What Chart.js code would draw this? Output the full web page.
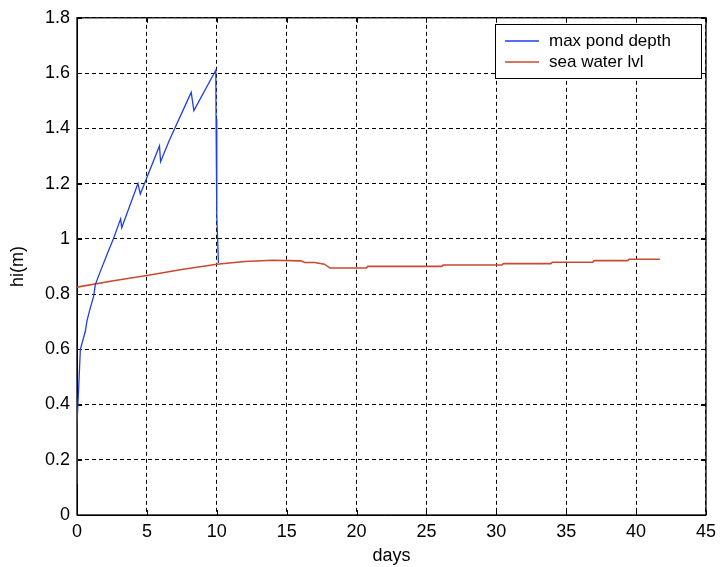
<!DOCTYPE html>
<html>
<head>
<meta charset="utf-8">
<script src="https://cdn.jsdelivr.net/npm/chart.js@4/dist/chart.umd.min.js"></script>
<style>
html,body{margin:0;padding:0;background:#fff;}
#wrap{width:722px;height:567px;position:relative;}
</style>
</head>
<body>
<div id="wrap"><canvas id="c" width="722" height="567"></canvas></div>
<script>
// ---- data ----
const pondDays  = [0, 0.0, 0.12, 0.24, 0.6, 0.71, 0.9, 1.19, 1.31, 1.67, 2.14, 2.62, 3.12, 3.2, 4.36, 4.53, 5.9, 5.98, 6.6, 8.17, 8.36, 9.84, 9.93, 9.95, 10.0, 10.12];
const pondDepth = [0.113, 0.33, 0.46, 0.60, 0.666, 0.702, 0.74, 0.792, 0.834, 0.882, 0.942, 1.002, 1.072, 1.04, 1.20, 1.162, 1.336, 1.279, 1.356, 1.530, 1.464, 1.602, 1.61, 1.434, 1.086, 0.912];

const seaDays  = [0, 2.5, 5, 7.5, 10, 12, 14, 16, 16.3, 17, 17.7, 18.1, 20.7, 20.8, 26.1, 26.2, 30.4, 30.5, 33.9, 34.0, 36.9, 37.0, 39.4, 39.5, 41.7];
const seaLevel = [0.825, 0.847, 0.867, 0.889, 0.908, 0.918, 0.922, 0.920, 0.914, 0.914, 0.908, 0.894, 0.894, 0.900, 0.900, 0.905, 0.905, 0.910, 0.910, 0.915, 0.915, 0.921, 0.921, 0.926, 0.926];

const xTickValues = [0, 5, 10, 15, 20, 25, 30, 35, 40, 45];
const yTickValues = [0, 0.2, 0.4, 0.6, 0.8, 1, 1.2, 1.4, 1.6, 1.8];
const yTickLabels = ['0', '0.2', '0.4', '0.6', '0.8', '1', '1.2', '1.4', '1.6', '1.8'];
const seriesNames = ['max pond depth', 'sea water lvl'];
const seriesColors = ['#1f3fe6', '#c84a30'];

const toPts = (xs, ys) => xs.map((x, i) => ({x: x, y: ys[i]}));

const FONT = 'Liberation Sans, Arial, sans-serif';

const framePlugin = {
  id: 'frame',
  beforeDatasetsDraw(chart) {
    const {ctx, chartArea: a, scales} = chart;
    ctx.save();
    ctx.strokeStyle = '#000';
    ctx.lineWidth = 1.3;
    ctx.setLineDash([]);
    ctx.strokeRect(a.left, a.top, a.right - a.left, a.bottom - a.top);
    ctx.lineWidth = 1;
    const tl = 5;
    xTickValues.forEach(v => {
      const px = Math.round(scales.x.getPixelForValue(v)) + 0.5;
      ctx.beginPath();
      ctx.moveTo(px, a.bottom); ctx.lineTo(px, a.bottom - tl);
      ctx.moveTo(px, a.top); ctx.lineTo(px, a.top + tl);
      ctx.stroke();
    });
    yTickValues.forEach(v => {
      const py = Math.round(scales.y.getPixelForValue(v)) + 0.5;
      ctx.beginPath();
      ctx.moveTo(a.left, py); ctx.lineTo(a.left + tl, py);
      ctx.moveTo(a.right, py); ctx.lineTo(a.right - tl, py);
      ctx.stroke();
    });
    ctx.restore();
  },
  afterDatasetsDraw(chart) {
    const {ctx} = chart;
    ctx.save();
    const bx = 495, by = 24, bw = 206, bh = 54;
    ctx.fillStyle = '#fff';
    ctx.fillRect(bx, by, bw, bh);
    ctx.strokeStyle = '#000';
    ctx.lineWidth = 1;
    ctx.strokeRect(bx + 0.5, by + 0.5, bw, bh);
    ctx.font = '17px ' + FONT;
    ctx.textBaseline = 'middle';
    ctx.textAlign = 'left';
    seriesNames.forEach((name, i) => {
      const yy = by + 17 + i * 21;
      ctx.strokeStyle = seriesColors[i];
      ctx.lineWidth = 1.3;
      ctx.beginPath();
      ctx.moveTo(bx + 10, yy); ctx.lineTo(bx + 44, yy);
      ctx.stroke();
      ctx.fillStyle = '#000';
      ctx.fillText(name, bx + 54, yy);
    });
    ctx.restore();
  }
};

new Chart(document.getElementById('c'), {
  type: 'line',
  data: {
    datasets: [
      {label: seriesNames[0], data: toPts(pondDays, pondDepth), borderColor: seriesColors[0], borderWidth: 1.3, pointRadius: 0, tension: 0, fill: false},
      {label: seriesNames[1], data: toPts(seaDays, seaLevel), borderColor: seriesColors[1], borderWidth: 1.6, pointRadius: 0, tension: 0, fill: false}
    ]
  },
  options: {
    responsive: false,
    animation: false,
    layout: {padding: {left: 0, right: 15, top: 13, bottom: 0}},
    plugins: {legend: {display: false}, tooltip: {enabled: false}},
    scales: {
      x: {
        type: 'linear', min: 0, max: 45,
        afterBuildTicks: s => { s.ticks = xTickValues.map(v => ({value: v})); },
        afterFit: s => { s.height = 52; },
        ticks: {color: '#000', font: {family: FONT, size: 18}, padding: 6, callback: v => String(v)},
        grid: {color: '#000', lineWidth: 1, drawTicks: false},
        border: {display: true, color: '#000', width: 1, dash: [4, 3]},
        title: {display: true, text: 'days', color: '#000', font: {family: FONT, size: 18}, padding: {top: 0, bottom: 0}}
      },
      y: {
        type: 'linear', min: 0, max: 1.8,
        afterBuildTicks: s => { s.ticks = yTickValues.map(v => ({value: v})); },
        afterFit: s => { s.width = 77; },
        ticks: {color: '#000', font: {family: FONT, size: 18}, padding: 7,
          callback: (v) => { const i = yTickValues.findIndex(t => Math.abs(t - v) < 1e-9); return i >= 0 ? yTickLabels[i] : ''; }},
        grid: {color: '#000', lineWidth: 1, drawTicks: false},
        border: {display: true, color: '#000', width: 1, dash: [4, 3]},
        title: {display: true, text: 'hi(m)', color: '#000', font: {family: FONT, size: 18}, padding: {top: 7, bottom: 0}}
      }
    }
  },
  plugins: [framePlugin]
});
</script>
</body>
</html>
